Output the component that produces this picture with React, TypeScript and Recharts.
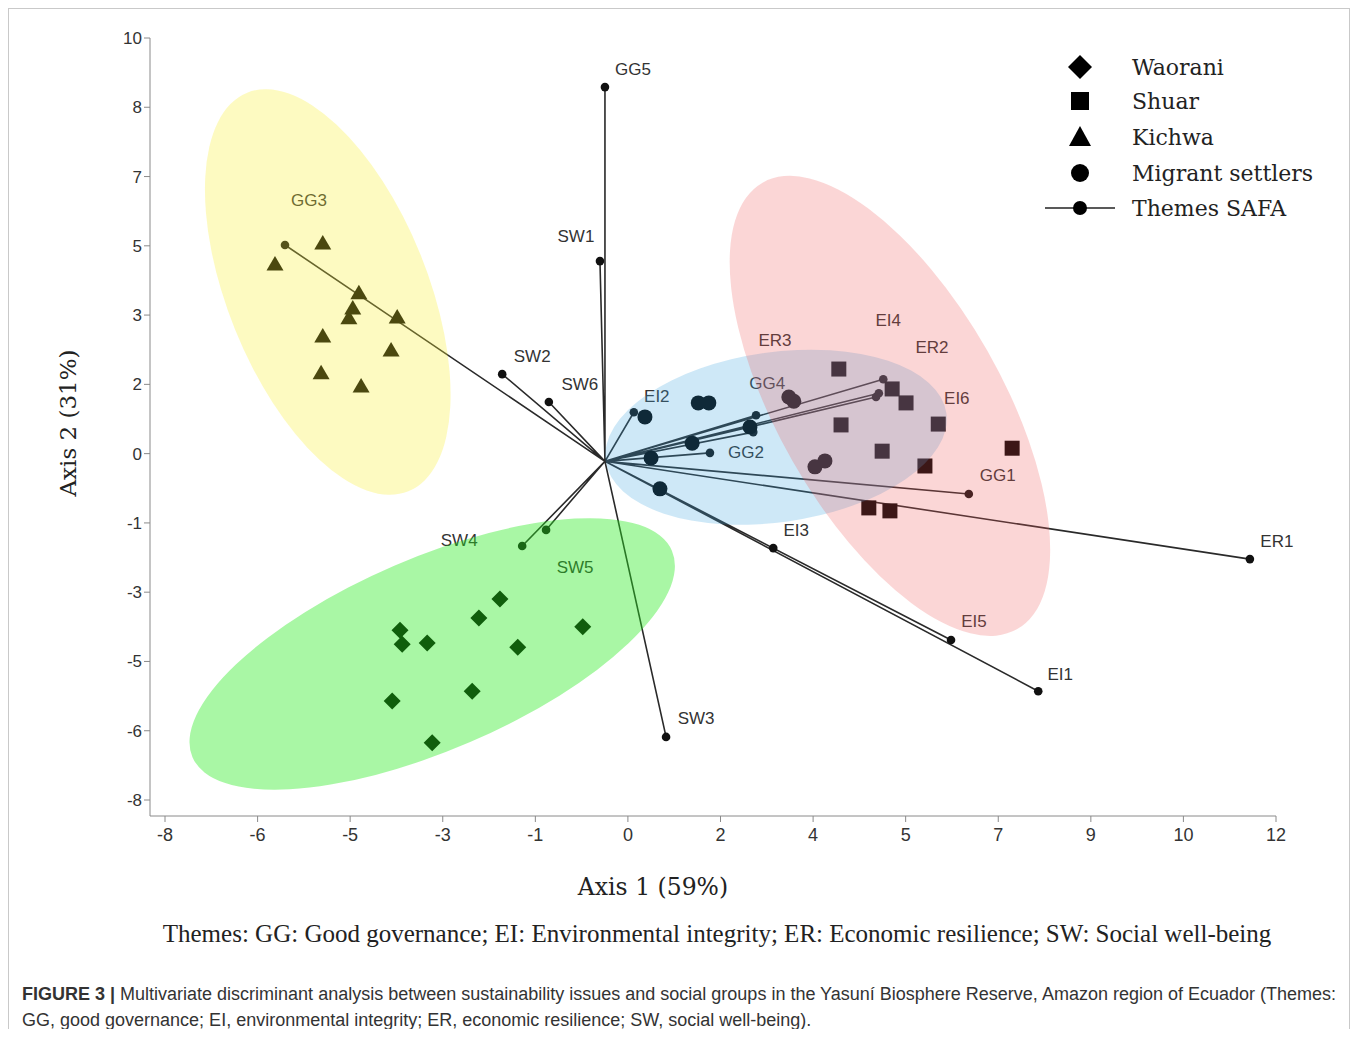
import React from 'react';
import { ScatterChart, Scatter, XAxis, YAxis, Legend } from 'recharts';

// Themes SAFA: biplot vectors drawn from the origin
const themeNames = ['GG5', 'SW1', 'GG3', 'SW2', 'SW6', 'EI2', 'ER3', 'GG4', 'EI4', 'ER2', 'EI6', 'GG2', 'GG1', 'ER1', 'EI3', 'EI5', 'EI1', 'SW3', 'SW4', 'SW5'];
const themeX = [-0.08, -0.17, -5.84, -1.93, -1.09, 0.44, 2.64, 2.59, 4.93, 4.8, 4.85, 1.81, 6.47, 11.53, 2.95, 6.15, 7.72, 1.02, -1.57, -1.14];
const themeY = [8.84, 4.73, 5.11, 2.06, 1.4, 1.16, 1.09, 0.69, 1.94, 1.52, 1.61, 0.2, -0.77, -2.31, -2.05, -4.22, -5.43, -6.51, -2.0, -1.62];
const originX = -0.08;
const originY = 0;

// social groups
const waoraniX = [-1.97, -2.35, -0.48, -3.77, -3.73, -3.28, -1.65, -2.47, -3.91, -3.19];
const waoraniY = [-3.25, -3.7, -3.91, -3.99, -4.32, -4.29, -4.39, -5.43, -5.66, -6.65];
const shuarX = [4.13, 5.09, 5.34, 4.17, 5.92, 4.91, 7.25, 5.68, 4.67, 5.05];
const shuarY = [2.18, 1.71, 1.38, 0.86, 0.88, 0.24, 0.31, -0.11, -1.1, -1.17];
const kichwaX = [-5.16, -6.02, -4.51, -4.62, -4.69, -3.82, -5.16, -3.93, -5.19, -4.47];
const kichwaY = [5.16, 4.66, 3.98, 3.62, 3.39, 3.41, 2.96, 2.63, 2.09, 1.78];
const migrantX = [0.64, 1.6, 1.79, 3.23, 3.32, 2.53, 1.49, 0.75, 0.91, 3.7, 3.88];
const migrantY = [1.05, 1.38, 1.38, 1.52, 1.42, 0.81, 0.43, 0.08, -0.65, -0.13, 0.01];

// group centroids (confidence ellipses)
const groupNames = ['Kichwa', 'Waorani', 'Migrant settlers', 'Shuar'];
const groupCentreX = [-5.07, -3.19, 3.0, 5.05];
const groupCentreY = [4.0, -4.55, 0.57, 1.31];

const xTicks = [-8, -6.333, -4.667, -3, -1.333, 0.333, 2, 3.667, 5.333, 7, 8.667, 10.333, 12];
const xTickLabels = ['-8', '-6', '-5', '-3', '-1', '0', '2', '4', '5', '7', '9', '10', '12'];
const yTicks = [-8, -6.364, -4.727, -3.091, -1.455, 0.182, 1.818, 3.455, 5.091, 6.727, 8.364, 10];
const yTickLabels = ['-8', '-6', '-5', '-3', '-1', '0', '2', '3', '5', '7', '8', '10'];

const toPoints = (xs: number[], ys: number[]) => xs.map((x, i) => ({ x, y: ys[i] }));

const vectorData = themeNames.flatMap((name, i) => [
  { x: originX, y: originY, name: '' },
  { x: themeX[i], y: themeY[i], name },
]);
const ellipseData = groupNames.map((name, i) => ({ x: groupCentreX[i], y: groupCentreY[i], name }));

// label placement relative to the vector tip (px)
const labelOffset: Record<string, [number, number]> = {
  GG5: [28, -18], SW1: [-24, -25], GG3: [24, -45], SW2: [30, -18], SW6: [31, -18],
  EI2: [23, -16], ER3: [19, -75], GG4: [14, -49], EI4: [5, -59], ER2: [56, -49],
  EI6: [78, 5], GG2: [36, 0], GG1: [29, -18], ER1: [27, -18], EI3: [23, -18],
  EI5: [23, -18], EI1: [22, -17], SW3: [30, -18], SW4: [-63, -6], SW5: [29, 38],
};

const ellipseStyle: Record<string, { rx: number; ry: number; angle: number; fill: string; opacity: number }> = {
  Kichwa: { rx: 215, ry: 100, angle: 68, fill: '#f8f032', opacity: 0.3 },
  Waorani: { rx: 261, ry: 96, angle: -23.3, fill: '#28eb1e', opacity: 0.4 },
  'Migrant settlers': { rx: 172, ry: 85, angle: -8, fill: '#3ca5e1', opacity: 0.25 },
  Shuar: { rx: 257, ry: 112, angle: 60.3, fill: '#f05a5a', opacity: 0.25 },
};

const sans = "'Liberation Sans', Arial, sans-serif";
const narrow = "'Liberation Sans Narrow', 'Liberation Sans', Arial, sans-serif";
const serif = "'DejaVu Serif', 'Liberation Serif', serif";

const ThemeDot = (p: any) => {
  const { cx, cy, payload } = p;
  if (!payload || !payload.name) return <g />;
  const [dx, dy] = labelOffset[payload.name];
  return (
    <g>
      <circle cx={cx} cy={cy} r={4.3} fill="#111" />
      <text x={cx + dx} y={cy + dy} textAnchor="middle" dominantBaseline="central" fontFamily={sans} fontSize={17} fill="#333">
        {payload.name}
      </text>
    </g>
  );
};

const DiamondShape = ({ cx, cy }: any) => (
  <polygon points={`${cx},${cy - 8.5} ${cx + 8.5},${cy} ${cx},${cy + 8.5} ${cx - 8.5},${cy}`} fill="#000" />
);
const SquareShape = ({ cx, cy }: any) => <rect x={cx - 7.5} y={cy - 7.5} width={15} height={15} fill="#000" />;
const TriangleShape = ({ cx, cy }: any) => (
  <polygon points={`${cx},${cy - 8} ${cx + 8.5},${cy + 6.5} ${cx - 8.5},${cy + 6.5}`} fill="#000" />
);
const CircleShape = ({ cx, cy }: any) => <circle cx={cx} cy={cy} r={7.5} fill="#000" />;

const EllipseShape = (p: any) => {
  const { cx, cy, payload } = p;
  const s = ellipseStyle[payload.name];
  return (
    <ellipse cx={cx} cy={cy} rx={s.rx} ry={s.ry} transform={`rotate(${s.angle} ${cx} ${cy})`} fill={s.fill} fillOpacity={s.opacity} />
  );
};

const legendRows = ['Waorani', 'Shuar', 'Kichwa', 'Migrant settlers', 'Themes SAFA'];
const rowY = [29, 63, 99, 135, 170];

function LegendBox() {
  return (
    <svg width={300} height={195}>
      <polygon points="50,17 62,29 50,41 38,29" fill="#000" />
      <rect x={41} y={54} width={18} height={18} fill="#000" />
      <polygon points="50,88 61,108 39,108" fill="#000" />
      <circle cx={50} cy={135} r={9} fill="#000" />
      <line x1={15} y1={170} x2={85} y2={170} stroke="#222" strokeWidth={1.6} />
      <circle cx={50} cy={170} r={7} fill="#000" />
      {legendRows.map((t, i) => (
        <text key={t} x={102} y={rowY[i]} dominantBaseline="central" fontFamily={serif} fontSize={22} fill="#222">
          {t}
        </text>
      ))}
    </svg>
  );
}

export default function App() {
  const fmtX = (v: number) => xTickLabels[xTicks.indexOf(v)] ?? String(Math.round(v));
  const fmtY = (v: number) => yTickLabels[yTicks.indexOf(v)] ?? String(Math.round(v));
  return (
    <div style={{ position: 'relative', width: 1340, height: 1020, border: '1px solid #c9c9c9', borderBottom: 'none' }}>
      <ScatterChart width={1340} height={880} margin={{ top: 29, right: 73, bottom: 33, left: 40 }} style={{ position: 'absolute', left: 0, top: 0 }}>
        <XAxis
          type="number"
          dataKey="x"
          domain={[-8, 12]}
          ticks={xTicks}
          interval={0}
          tickFormatter={fmtX}
          padding={{ left: 15, right: 0 }}
          height={40}
          stroke="#8a8a8a"
          tickMargin={6}
          tick={{ fill: '#333', fontSize: 18, fontFamily: narrow }}
        />
        <YAxis
          type="number"
          dataKey="y"
          domain={[-8, 10]}
          ticks={yTicks}
          interval={0}
          tickFormatter={fmtY}
          padding={{ top: 0, bottom: 16 }}
          width={101}
          stroke="#8a8a8a"
          tick={{ fill: '#333', fontSize: 17, fontFamily: sans }}
        />
        <Legend
          layout="vertical"
          align="center"
          verticalAlign="middle"
          content={() => <LegendBox />}
          wrapperStyle={{ top: 29, left: 1021, width: 300, height: 195 }}
        />
        <Scatter
          name="Themes SAFA"
          data={vectorData}
          line={{ stroke: '#2a2a2a', strokeWidth: 1.6 }}
          lineType="joint"
          shape={ThemeDot}
          isAnimationActive={false}
        />
        <Scatter name="Waorani" data={toPoints(waoraniX, waoraniY)} shape={DiamondShape} isAnimationActive={false} />
        <Scatter name="Shuar" data={toPoints(shuarX, shuarY)} shape={SquareShape} isAnimationActive={false} />
        <Scatter name="Kichwa" data={toPoints(kichwaX, kichwaY)} shape={TriangleShape} isAnimationActive={false} />
        <Scatter name="Migrant settlers" data={toPoints(migrantX, migrantY)} shape={CircleShape} isAnimationActive={false} />
        <Scatter name="groups" data={ellipseData} shape={EllipseShape} isAnimationActive={false} />
      </ScatterChart>

      <div style={{ position: 'absolute', left: 0, width: 1288, top: 864, textAlign: 'center', fontFamily: serif, fontSize: 23.5, color: '#222' }}>
        Axis 1 (59%)
      </div>
      <div
        style={{
          position: 'absolute',
          left: 59 - 100,
          top: 414 - 15,
          width: 200,
          height: 30,
          lineHeight: '30px',
          textAlign: 'center',
          transform: 'rotate(-90deg)',
          fontFamily: serif,
          fontSize: 23,
          color: '#222',
        }}
      >
        Axis 2 (31%)
      </div>
      <div style={{ position: 'absolute', left: 0, width: 1416, top: 911, textAlign: 'center', fontFamily: "'Liberation Serif', serif", fontSize: 25, color: '#222' }}>
        Themes: GG: Good governance; EI: Environmental integrity; ER: Economic resilience; SW: Social well-being
      </div>
      <div style={{ position: 'absolute', left: 13, top: 972, width: 1336, fontFamily: sans, fontSize: 18, lineHeight: '26px', color: '#333', whiteSpace: 'nowrap' }}>
        <b>FIGURE 3 |</b> Multivariate discriminant analysis between sustainability issues and social groups in the Yasuní Biosphere Reserve, Amazon region of Ecuador (Themes:
        <br />
        GG, good governance; EI, environmental integrity; ER, economic resilience; SW, social well-being).
      </div>
    </div>
  );
}
